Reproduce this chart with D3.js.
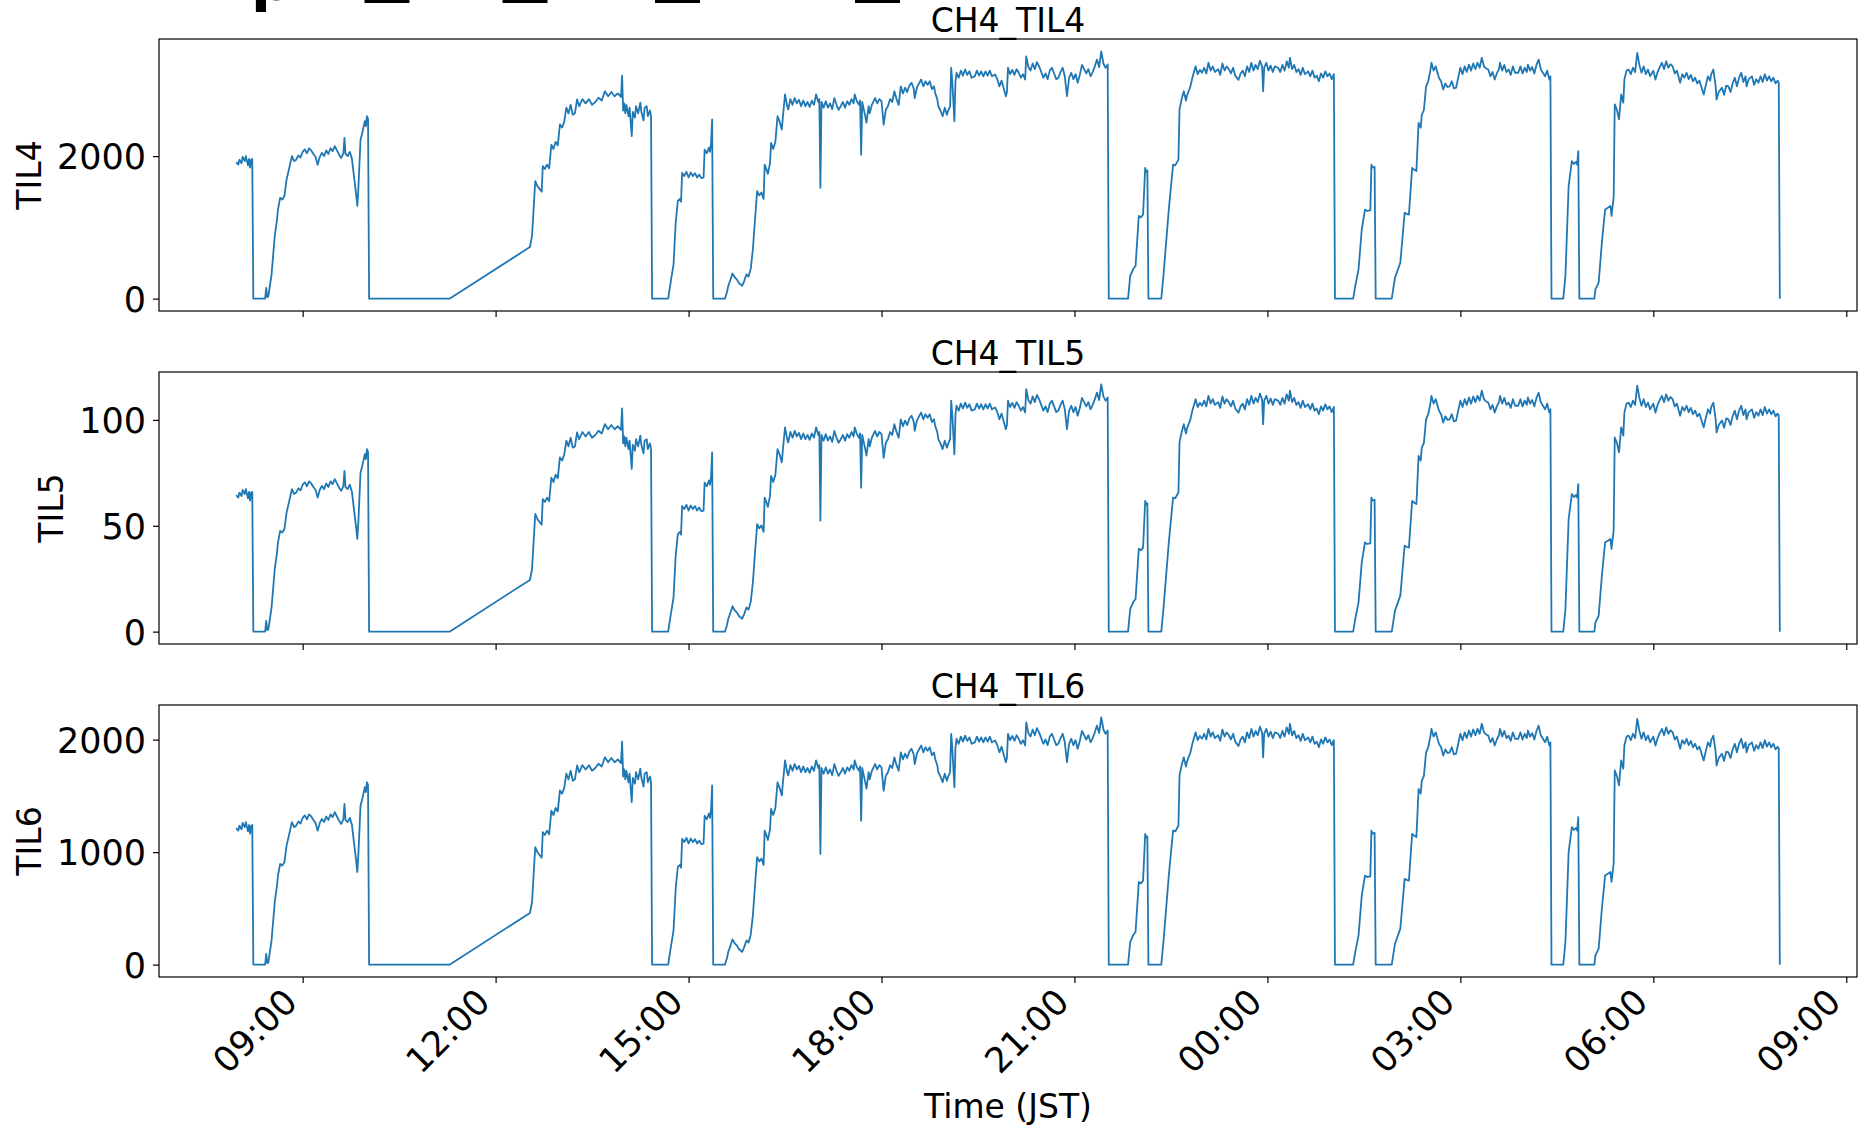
<!DOCTYPE html>
<html><head><meta charset="utf-8">
<script src="https://cdn.jsdelivr.net/npm/d3@7"></script>
<style>html,body{margin:0;padding:0;background:#fff;overflow:hidden}svg{display:block}</style>
</head><body>
<svg id="chart" width="1858" height="1129"></svg>
<script>
// Clock time in JST, stored as UTC so the axis prints the clock directly
const startTime = Date.UTC(2024, 4, 1, 8, 0);
// minutes after 08:00 (day 1)
const minutes = [
-2,0,1,3,4,6,7,9,10,11,12,13,
14,25,26,27,28,31,34,36,37,39,41,43,45,47,
50,52,54,56,58,60,62,64,66,68,70,72,74,76,
78,80,82,84,86,88,90,92,94,96,98,99,100,102,
104,106,108,110,111,112,114,116,118,119,120,121,122,
197,272,
274,276,277,279,281,283,284,286,288,290,292,294,296,298,
300,302,304,306,308,310,312,314,316,318,321,324,327,330,
333,336,339,342,345,348,351,354,357,358,359,360,361,362,
364,365,367,368,370,371,373,375,376,378,379,381,382,384,385,386,
401,403,406,408,410,412,413,414,416,418,420,422,424,
426,428,430,432,434,435,437,439,440,441,442,443,
454,455,456,457,459,461,463,465,467,470,472,474,476,478,
480,482,484,486,488,490,491,493,494,496,497,499,501,
503,505,507,508,510,512,513,515,517,519,521,523,525,527,
529,531,533,535,537,539,541,542,543,544,546,548,550,552,
554,556,558,560,562,564,566,568,570,572,574,575,577,579,
580,581,582,584,586,588,589,591,594,596,598,600,
602,604,606,608,610,612,614,616,618,620,622,624,626,628,
630,631,633,635,637,639,641,643,645,647,649,650,652,653,
655,657,659,661,662,664,665,666,668,669,670,672,674,676,
678,680,682,684,687,689,691,693,695,697,699,701,703,706,
708,710,712,714,716,717,718,720,722,724,726,728,730,732,734,
735,737,739,741,743,745,747,749,751,753,755,757,759,761,
763,765,767,769,771,773,775,777,779,781,783,785,787,789,
791,793,795,797,799,801,803,805,807,809,811,812,
830,832,835,837,840,842,844,846,847,848,849,
861,863,868,872,874,877,878,880,882,884,885,888,890,893,
895,897,899,901,903,905,907,909,911,914,916,918,920,922,
924,926,928,930,933,935,937,939,941,943,945,947,949,951,
953,955,956,957,959,961,963,965,967,970,972,974,976,978,
980,981,983,985,987,989,991,993,995,998,1000,1002,1004,1006,
1008,1010,1012,1014,1016,1018,1020,1022,1023,
1040,1042,1045,1048,1051,1053,1056,1057,1058,1060,1061,
1076,1079,1084,1088,1090,1092,1095,1097,1099,1101,1103,1104,1106,1108,
1110,1112,1113,1115,1117,1120,1122,1124,1126,1128,1130,1132,1134,1136,
1138,1140,1142,1144,1146,1148,1150,1152,1154,1156,1158,1160,1162,1164,
1166,1168,1170,1172,1174,1176,1177,1179,1181,1183,1185,1187,1189,1191,
1194,1196,1198,1200,1202,1203,1205,1207,1209,1211,1213,1215,1217,1219,
1221,1223,1224,1225,
1236,1238,1241,1244,1246,1248,1249,1250,1251,
1265,1266,1269,1272,1275,1278,1280,1281,1283,1284,1286,1288,1290,1292,
1293,1295,1297,1299,1301,1303,1305,1307,1309,1311,1313,1315,1317,1320,
1322,1324,1326,1328,1330,1332,1334,1336,1338,1340,1342,1345,1347,1349,
1351,1353,1355,1357,1359,1361,1363,1365,1367,1369,1371,1373,1374,1376,
1378,1379,1381,1384,1386,1388,1390,1392,1394,1396,1398,1400,1402,1404,
1406,1407,1409,1412,1414,1416,1418,1420,1422,1424,1426,1428,1430,1432,
1434,1436,1437,1438
];
const til4 = [
1915,1880,1950,1900,1990,1930,2000,1870,1960,1840,1950,1960,
0,0,150,20,30,340,880,1100,1250,1415,1390,1440,1670,1800,
2000,1930,1950,2010,1980,2060,2095,2040,2110,2080,2030,1990,1880,1990,
2045,2000,2080,2030,2110,2070,2140,2080,2020,1975,2040,2255,2030,2000,
2060,1960,1700,1450,1300,1550,2230,2350,2490,2420,2560,2520,0,
0,724,
880,1400,1650,1580,1540,1500,1860,1820,1880,1830,2160,2100,2200,2150,
2445,2400,2480,2680,2600,2720,2580,2600,2795,2700,2800,2740,2800,2720,
2760,2820,2780,2910,2840,2900,2840,2880,2830,3130,2640,2740,2600,2720,
2560,2680,2280,2620,2540,2700,2600,2750,2620,2500,2680,2700,2560,2640,2560,0,
0,200,480,1065,1370,1400,1360,1765,1720,1780,1700,1770,1720,
1760,1700,1740,1690,1700,2090,2040,2120,2060,2180,2515,0,
0,50,100,177,260,355,300,270,220,180,250,340,310,420,
690,1110,1510,1450,1490,1400,1880,1800,1750,1900,2185,2100,2200,
2560,2480,2375,2550,2865,2700,2655,2800,2720,2815,2740,2790,2700,2780,
2700,2760,2690,2780,2720,2865,2760,2800,1555,2760,2680,2770,2680,2740,
2660,2815,2720,2650,2700,2760,2680,2770,2720,2800,2740,2865,2770,2720,
2780,2020,2760,2620,2470,2700,2600,2720,2815,2740,2800,2770,
2440,2650,2700,2800,2760,2910,2800,2720,2980,2880,2960,2900,2990,3030,
2950,2815,2960,3020,3075,2980,3050,3000,3050,2940,2980,2890,2800,2700,
2640,2560,2680,2580,2630,2700,3240,3050,2490,3050,3170,3100,3200,3130,
3215,3140,3190,3100,3120,3200,3130,3190,3120,3190,3130,3200,3120,3145,
3080,2980,3060,2950,2840,2900,3240,3150,3210,3140,3220,3170,3100,3150,3075,
3400,3250,3200,3300,3220,3320,3260,3180,3100,3160,3080,3200,3240,3160,
3080,3100,3180,3240,3120,2840,3100,3170,3080,3150,3030,3140,3280,3220,
3160,3220,3120,3180,3260,3355,3250,3470,3300,3240,3285,0,
0,318,420,458,1160,1140,1180,1835,1780,1800,0,
0,318,1250,1880,1870,1950,2655,2800,2910,2780,2850,2970,3100,3260,
3150,3210,3170,3240,3160,3310,3200,3260,3180,3220,3140,3300,3200,3260,
3220,3160,3240,3130,3070,3160,3200,3120,3260,3180,3310,3200,3280,3220,
3340,3260,2910,3240,3310,3200,3270,3180,3260,3240,3180,3280,3200,3330,
3240,3380,3220,3280,3180,3220,3140,3240,3150,3190,3120,3200,3100,3130,
3050,3160,3100,3190,3120,3160,3080,3150,0,
0,180,410,970,1250,1230,1240,1880,1840,1850,0,
0,294,505,1205,1190,1180,1835,1810,1790,2465,2400,2580,2650,2980,
3050,3200,3310,3200,3260,3100,3050,2935,3020,2970,2980,3050,2950,2960,
3100,3240,3150,3260,3180,3285,3200,3300,3220,3310,3240,3380,3260,3230,
3215,3120,3180,3075,3160,3220,3310,3200,3280,3180,3215,3140,3260,3170,
3170,3260,3160,3240,3180,3285,3200,3250,3160,3280,3355,3220,3170,3120,
3200,3075,3120,0,
0,318,1580,1930,1890,1920,1880,2070,0,
0,130,224,785,1250,1280,1300,1160,1420,2725,2650,2515,2865,2750,
3075,3200,3215,3150,3240,3180,3450,3280,3170,3260,3150,3215,3120,3200,
3075,3180,3250,3310,3220,3330,3240,3290,3260,3160,3200,3030,3150,3100,
3170,3080,3140,3050,3100,3020,3060,2960,2865,3000,3120,3060,3150,3215,
3000,2795,2900,2960,2860,2990,2980,2900,3020,3100,2980,3100,3170,3040,
3120,2980,3080,3120,3000,3080,3030,3120,3040,3150,3060,3120,3050,3100,
3020,3060,3030,0
];
const til5 = [
64.5,63.3,65.7,64.0,67.0,65.0,67.3,63.0,66.0,61.9,65.7,66.0,
0,0,5.1,0.7,1.0,11.4,29.6,37.0,42.1,47.6,46.8,48.5,56.2,60.6,
67.3,65.0,65.7,67.7,66.7,69.4,70.5,68.7,71.0,70.0,68.3,67.0,63.3,67.0,
68.8,67.3,70.0,68.3,71.0,69.7,72.0,70.0,68.0,66.5,68.7,75.9,68.3,67.3,
69.4,66.0,57.2,48.8,43.8,52.2,75.1,79.1,83.8,81.5,86.2,84.8,0,
0,24.4,
29.6,47.1,55.6,53.2,51.8,50.5,62.6,61.3,63.3,61.6,72.7,70.7,74.1,72.4,
82.3,80.8,83.5,90.2,87.5,91.6,86.9,87.5,94.1,90.9,94.3,92.2,94.3,91.6,
92.9,94.9,93.6,98.0,95.6,97.6,95.6,97.0,95.3,105.4,88.9,92.2,87.5,91.6,
86.2,90.2,76.8,88.2,85.5,90.9,87.5,92.6,88.2,84.2,90.2,90.9,86.2,88.9,86.2,0,
0,6.7,16.2,35.9,46.1,47.1,45.8,59.4,57.9,59.9,57.2,59.6,57.9,
59.3,57.2,58.6,56.9,57.2,70.4,68.7,71.4,69.4,73.4,84.7,0,
0,1.7,3.4,6.0,8.8,12.0,10.1,9.1,7.4,6.1,8.4,11.4,10.4,14.1,
23.2,37.4,50.8,48.8,50.2,47.1,63.3,60.6,58.9,64.0,73.6,70.7,74.1,
86.2,83.5,80.0,85.9,96.5,90.9,89.4,94.3,91.6,94.8,92.2,93.9,90.9,93.6,
90.9,92.9,90.6,93.6,91.6,96.5,92.9,94.3,52.4,92.9,90.2,93.3,90.2,92.2,
89.6,94.8,91.6,89.2,90.9,92.9,90.2,93.3,91.6,94.3,92.2,96.5,93.3,91.6,
93.6,68.0,92.9,88.2,83.2,90.9,87.5,91.6,94.8,92.2,94.3,93.3,
82.1,89.2,90.9,94.3,92.9,98.0,94.3,91.6,100.3,97.0,99.7,97.6,100.7,102.0,
99.3,94.8,99.7,101.7,103.5,100.3,102.7,101.0,102.7,99.0,100.3,97.3,94.3,90.9,
88.9,86.2,90.2,86.9,88.5,90.9,109.1,102.7,83.8,102.7,106.7,104.4,107.7,105.4,
108.2,105.7,107.4,104.4,105.0,107.7,105.4,107.4,105.0,107.4,105.4,107.7,105.0,105.9,
103.7,100.3,103.0,99.3,95.6,97.6,109.1,106.1,108.1,105.7,108.4,106.7,104.4,106.1,103.5,
114.5,109.4,107.7,111.1,108.4,111.8,109.8,107.1,104.4,106.4,103.7,107.7,109.1,106.4,
103.7,104.4,107.1,109.1,105.0,95.6,104.4,106.7,103.7,106.1,102.0,105.7,110.4,108.4,
106.4,108.4,105.0,107.1,109.8,112.9,109.4,116.8,111.1,109.1,110.6,0,
0,10.7,14.1,15.4,39.1,38.4,39.7,61.8,59.9,60.6,0,
0,10.7,42.1,63.3,63.0,65.7,89.4,94.3,98.0,93.6,96.0,100.0,104.4,109.8,
106.1,108.1,106.7,109.1,106.4,111.4,107.7,109.8,107.1,108.4,105.7,111.1,107.7,109.8,
108.4,106.4,109.1,105.4,103.4,106.4,107.7,105.0,109.8,107.1,111.4,107.7,110.4,108.4,
112.4,109.8,98.0,109.1,111.4,107.7,110.1,107.1,109.8,109.1,107.1,110.4,107.7,112.1,
109.1,113.8,108.4,110.4,107.1,108.4,105.7,109.1,106.1,107.4,105.0,107.7,104.4,105.4,
102.7,106.4,104.4,107.4,105.0,106.4,103.7,106.1,0,
0,6.1,13.8,32.7,42.1,41.4,41.7,63.3,61.9,62.3,0,
0,9.9,17.0,40.6,40.1,39.7,61.8,60.9,60.3,83.0,80.8,86.9,89.2,100.3,
102.7,107.7,111.4,107.7,109.8,104.4,102.7,98.8,101.7,100.0,100.3,102.7,99.3,99.7,
104.4,109.1,106.1,109.8,107.1,110.6,107.7,111.1,108.4,111.4,109.1,113.8,109.8,108.7,
108.2,105.0,107.1,103.5,106.4,108.4,111.4,107.7,110.4,107.1,108.2,105.7,109.8,106.7,
106.7,109.8,106.4,109.1,107.1,110.6,107.7,109.4,106.4,110.4,112.9,108.4,106.7,105.0,
107.7,103.5,105.0,0,
0,10.7,53.2,65.0,63.6,64.6,63.3,69.7,0,
0,4.4,7.5,26.4,42.1,43.1,43.8,39.1,47.8,91.7,89.2,84.7,96.5,92.6,
103.5,107.7,108.2,106.1,109.1,107.1,116.2,110.4,106.7,109.8,106.1,108.2,105.0,107.7,
103.5,107.1,109.4,111.4,108.4,112.1,109.1,110.8,109.8,106.4,107.7,102.0,106.1,104.4,
106.7,103.7,105.7,102.7,104.4,101.7,103.0,99.7,96.5,101.0,105.0,103.0,106.1,108.2,
101.0,94.1,97.6,99.7,96.3,100.7,100.3,97.6,101.7,104.4,100.3,104.4,106.7,102.3,
105.0,100.3,103.7,105.0,101.0,103.7,102.0,105.0,102.3,106.1,103.0,105.0,102.7,104.4,
101.7,103.0,102.0,0
];
const til6 = [
1213,1191,1235,1203,1260,1222,1267,1184,1241,1165,1235,1241,
0,0,95,13,19,215,557,697,792,896,880,912,1058,1140,
1267,1222,1235,1273,1254,1305,1327,1292,1336,1317,1286,1260,1191,1260,
1295,1267,1317,1286,1336,1311,1355,1317,1279,1251,1292,1428,1286,1267,
1305,1241,1077,918,823,982,1412,1488,1577,1533,1621,1596,0,
0,459,
557,887,1045,1001,975,950,1178,1153,1191,1159,1368,1330,1393,1362,
1549,1520,1571,1697,1647,1723,1634,1647,1770,1710,1773,1735,1773,1723,
1748,1786,1761,1843,1799,1837,1799,1824,1792,1982,1672,1735,1647,1723,
1621,1697,1444,1659,1609,1710,1647,1742,1659,1583,1697,1710,1621,1672,1621,0,
0,127,304,675,868,887,861,1118,1089,1127,1077,1121,1089,
1115,1077,1102,1070,1077,1324,1292,1343,1305,1381,1593,0,
0,32,63,112,165,225,190,171,139,114,158,215,196,266,
437,703,956,918,944,887,1191,1140,1108,1203,1384,1330,1393,
1621,1571,1504,1615,1815,1710,1682,1773,1723,1783,1735,1767,1710,1761,
1710,1748,1704,1761,1723,1815,1748,1773,985,1748,1697,1754,1697,1735,
1685,1783,1723,1678,1710,1748,1697,1754,1723,1773,1735,1815,1754,1723,
1761,1279,1748,1659,1564,1710,1647,1723,1783,1735,1773,1754,
1545,1678,1710,1773,1748,1843,1773,1723,1887,1824,1875,1837,1894,1919,
1868,1783,1875,1913,1948,1887,1932,1900,1932,1862,1887,1830,1773,1710,
1672,1621,1697,1634,1666,1710,2052,1932,1577,1932,2008,1963,2027,1982,
2036,1989,2020,1963,1976,2027,1982,2020,1976,2020,1982,2027,1976,1992,
1951,1887,1938,1868,1799,1837,2052,1995,2033,1989,2039,2008,1963,1995,1948,
2153,2058,2027,2090,2039,2103,2065,2014,1963,2001,1951,2027,2052,2001,
1951,1963,2014,2052,1976,1799,1963,2008,1951,1995,1919,1989,2077,2039,
2001,2039,1976,2014,2065,2125,2058,2198,2090,2052,2081,0,
0,201,266,290,735,722,747,1162,1127,1140,0,
0,201,792,1191,1184,1235,1682,1773,1843,1761,1805,1881,1963,2065,
1995,2033,2008,2052,2001,2096,2027,2065,2014,2039,1989,2090,2027,2065,
2039,2001,2052,1982,1944,2001,2027,1976,2065,2014,2096,2027,2077,2039,
2115,2065,1843,2052,2096,2027,2071,2014,2065,2052,2014,2077,2027,2109,
2052,2141,2039,2077,2014,2039,1989,2052,1995,2020,1976,2027,1963,1982,
1932,2001,1963,2020,1976,2001,1951,1995,0,
0,114,260,614,792,779,785,1191,1165,1172,0,
0,186,320,763,754,747,1162,1146,1134,1561,1520,1634,1678,1887,
1932,2027,2096,2027,2065,1963,1932,1859,1913,1881,1887,1932,1868,1875,
1963,2052,1995,2065,2014,2081,2027,2090,2039,2096,2052,2141,2065,2046,
2036,1976,2014,1948,2001,2039,2096,2027,2077,2014,2036,1989,2065,2008,
2008,2065,2001,2052,2014,2081,2027,2058,2001,2077,2125,2039,2008,1976,
2027,1948,1976,0,
0,201,1001,1222,1197,1216,1191,1311,0,
0,82,142,497,792,811,823,735,899,1726,1678,1593,1815,1742,
1948,2027,2036,1995,2052,2014,2185,2077,2008,2065,1995,2036,1976,2027,
1948,2014,2058,2096,2039,2109,2052,2084,2065,2001,2027,1919,1995,1963,
2008,1951,1989,1932,1963,1913,1938,1875,1815,1900,1976,1938,1995,2036,
1900,1770,1837,1875,1811,1894,1887,1837,1913,1963,1887,1963,2008,1925,
1976,1887,1951,1976,1900,1951,1919,1976,1925,1995,1938,1976,1932,1963,
1913,1938,1919,0
];
const seriesValues = [til4, til5, til6];
const panelTitles = ["CH4_TIL4", "CH4_TIL5", "CH4_TIL6"];
const yLabels = ["TIL4", "TIL5", "TIL6"];
const yTickValues = [[0, 2000], [0, 50, 100], [0, 1000, 2000]];
const xLabel = "Time (JST)";
// cut-off figure title: only descenders remain visible
const titleGlyphs = ["p", "_", "_", "_", "_"];

[til4, til5, til6].forEach((s, i) => {
  if (s.length !== minutes.length) throw new Error("length mismatch series " + i + ": " + s.length + " vs " + minutes.length);
});

const times = minutes.map(m => new Date(startTime + m * 60000));
const svg = d3.select("#chart");
const FONT = "DejaVu Sans";
const axL = 159, axR = 1857, axH = 272;
const axTops = [39, 372, 705];
const color = "#1f77b4";

// x scale with matplotlib-like 5% margins
const tExt = d3.extent(times);
const tSpan = tExt[1] - tExt[0];
const x = d3.scaleUtc()
  .domain([new Date(+tExt[0] - 0.05 * tSpan), new Date(+tExt[1] + 0.05 * tSpan)])
  .range([axL, axR]);

// cut-off suptitle
const st = svg.append("text").attr("font-family", FONT).attr("font-weight", "bold").attr("fill", "#000");
const glyphX = [251, 364.5, 502.5, 655, 855];
titleGlyphs.forEach((g, i) => {
  st.append("tspan").attr("x", glyphX[i]).attr("y", g === "p" ? 0 : -18)
    .attr("font-size", g === "p" ? 58 : 90).text(g);
});

seriesValues.forEach((vals, i) => {
  const top = axTops[i], bot = top + axH;
  const ext = d3.extent(vals);
  const span = ext[1] - ext[0];
  const y = d3.scaleLinear().domain([ext[0] - 0.05 * span, ext[1] + 0.05 * span]).range([bot, top]);
  const g = svg.append("g");

  const clipId = "clip" + i;
  svg.append("clipPath").attr("id", clipId).append("rect")
    .attr("x", axL).attr("y", top).attr("width", axR - axL).attr("height", axH);

  const line = d3.line().x((d, j) => x(times[j])).y(d => y(d));
  g.append("path").datum(vals).attr("d", line)
    .attr("fill", "none").attr("stroke", color).attr("stroke-width", 1.8)
    .attr("stroke-linejoin", "round").attr("clip-path", `url(#${clipId})`);

  // y axis
  const ya = g.append("g").attr("transform", `translate(${axL},0)`)
    .call(d3.axisLeft(y).tickValues(yTickValues[i]).tickSize(6).tickPadding(7).tickFormat(d3.format("d")));
  ya.select(".domain").remove();
  ya.selectAll(".tick line").attr("stroke", "#000").attr("stroke-width", 1.2);
  ya.selectAll(".tick text").attr("font-family", FONT).attr("font-size", 35).attr("fill", "#000").attr("dy", "0.36em");

  // x axis
  const xa = g.append("g").attr("transform", `translate(0,${bot})`)
    .call(d3.axisBottom(x).ticks(d3.utcHour.every(3)).tickSize(6)
      .tickFormat(i === 2 ? d3.utcFormat("%H:%M") : () => ""));
  xa.select(".domain").remove();
  xa.selectAll(".tick line").attr("stroke", "#000").attr("stroke-width", 1.2);
  xa.selectAll(".tick text").attr("font-family", FONT).attr("font-size", 35).attr("fill", "#000")
    .attr("text-anchor", "end").attr("x", 0).attr("y", 0).attr("dy", 0)
    .attr("transform", "translate(-4,27) rotate(-45)");

  // frame
  g.append("rect").attr("x", axL).attr("y", top).attr("width", axR - axL).attr("height", axH)
    .attr("fill", "none").attr("stroke", "#000").attr("stroke-width", 1.2);

  // title
  g.append("text").attr("x", (axL + axR) / 2).attr("y", top - 7).attr("text-anchor", "middle")
    .attr("font-family", FONT).attr("font-size", 33).attr("fill", "#000").text(panelTitles[i]);

  // y label
  let minX = Infinity;
  ya.selectAll(".tick text").each(function () {
    const b = this.getBBox();
    const m = this.parentNode.transform.baseVal.consolidate();
    minX = Math.min(minX, axL + (m ? m.matrix.e : 0) + b.x);
  });
  g.append("text").attr("transform", `translate(${minX - 16},${(top + bot) / 2}) rotate(-90)`)
    .attr("text-anchor", "middle").attr("font-family", FONT).attr("font-size", 33).attr("fill", "#000")
    .text(yLabels[i]);
});

svg.append("text").attr("x", (axL + axR) / 2).attr("y", 1118).attr("text-anchor", "middle")
  .attr("font-family", FONT).attr("font-size", 33).attr("fill", "#000").text(xLabel);
</script>
</body></html>
